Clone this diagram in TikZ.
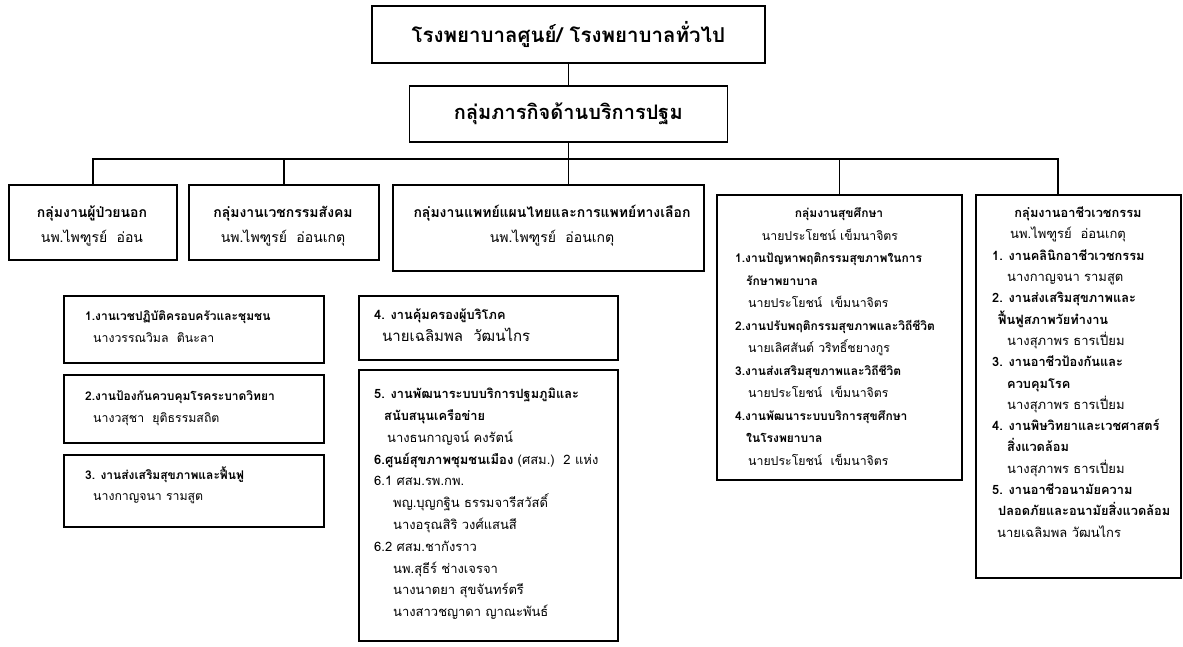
\documentclass[tikz,border=0pt]{standalone}
\usepackage{fontspec}
\setmainfont[Script=Thai]{Loma}
\tikzset{
  frame/.style={draw, line width=1.6pt, inner sep=0pt, anchor=north west},
  link/.style={line width=1.4pt},
  toptext/.style={font=\bfseries\fontsize{20.5}{24}\selectfont},
  subtext/.style={font=\bfseries\fontsize{20}{23}\selectfont},
  grphd/.style={font=\bfseries\fontsize{14}{17}\selectfont, inner sep=0pt, anchor=mid},
  grpnm/.style={font=\fontsize{14}{17}\selectfont, inner sep=0pt, anchor=mid},
  hd/.style={font=\bfseries\fontsize{12}{14}\selectfont, inner sep=0pt, anchor=mid west},
  nm/.style={font=\fontsize{12.3}{14}\selectfont, inner sep=0pt, anchor=mid west},
  hdc/.style={hd, anchor=mid},
  nmc/.style={nm, anchor=mid},
  % slightly larger lettering of the occupational medicine and primary care columns
  hdl/.style={hd, font=\bfseries\fontsize{12.8}{15}\selectfont},
  nml/.style={nm, font=\fontsize{13}{15}\selectfont},
  hdlc/.style={hdl, anchor=mid},
  nmlc/.style={nml, anchor=mid},
  nmbig/.style={font=\fontsize{15}{17}\selectfont, inner sep=0pt, anchor=mid west},
}
% box: name, left, top, width, height
\newcommand\orgbox[5]{\node[frame, minimum width=#4pt, minimum height=#5pt] (#1) at (#2,#3) {};}
\begin{document}
\begin{tikzpicture}[x=1pt, y=-1pt]
\fill[white] (0,0) rectangle (1183,646);
\useasboundingbox (0,0) rectangle (1183,646);

% top of the hierarchy
\node[frame, toptext, minimum width=393pt, minimum height=57pt] (A) at (371,5) {โรงพยาบาลศูนย์/ โรงพยาบาลทั่วไป};
\node[frame, subtext, minimum width=318pt, minimum height=56pt] (B) at (408.5,85) {กลุ่มภารกิจด้านบริการปฐม};

% second level groups
\orgbox{g1}{8}{184}{168}{75}
\orgbox{g2}{188}{184}{190}{75}
\orgbox{g3}{392}{184}{311}{86}
\orgbox{g4}{716}{194}{245}{285}
\orgbox{g5}{975}{194}{205}{383}

% sub-units of the primary care groups
\orgbox{u1}{63}{295}{260}{67}
\orgbox{u2}{63}{374}{260}{68}
\orgbox{u3}{63}{454}{260}{72}
\orgbox{u4}{358}{295}{259}{64}
\orgbox{u5}{358}{369}{259}{271}

% connectors
\coordinate (bar) at (0,159);
\draw[link] (A.south) -- (B.north);
\draw[link] (B.south) -- (B.south |- g3.north);
\draw[link] (g1.north) -- (g1.north |- bar) -- (g5.96.7 |- bar) -- (g5.96.7);
\draw[link] (g2.north) -- (g2.north |- bar);
\draw[link] (g4.north) -- (g4.north |- bar);

% group titles
\node[grphd] (g1t) at (92,215) {กลุ่มงานผู้ป่วยนอก};
\node[grpnm] (g1n) at (92,240) {นพ.ไพฑูรย์\ \ อ่อน};
\node[grphd] (g2t) at (283,215) {กลุ่มงานเวชกรรมสังคม};
\node[grpnm] (g2n) at (283,240) {นพ.ไพฑูรย์\ \ อ่อนเกตุ};
\node[grphd] (g3t) at (552,215) {กลุ่มงานแพทย์แผนไทยและการแพทย์ทางเลือก};
\node[grpnm] (g3n) at (552,240) {นพ.ไพฑูรย์\ \ อ่อนเกตุ};

% health education group
\foreach \xx/\st/\tx [count=\i] in {
  839/hdc/กลุ่มงานสุขศึกษา,
  830/nmc/นายประโยชน์ เข็มนาจิตร,
  735/hd/1.งานปัญหาพฤติกรรมสุขภาพในการ,
  746/hd/รักษาพยาบาล,
  748/nm/นายประโยชน์\ \ เข็มนาจิตร,
  735/hd/2.งานปรับพฤติกรรมสุขภาพและวิถีชีวิต,
  748/nm/นายเลิศสันต์ วริทธิ์ชยางกูร,
  735/hd/3.งานส่งเสริมสุขภาพและวิถีชีวิต,
  748/nm/นายประโยชน์\ \ เข็มนาจิตร,
  735/hd/4.งานพัฒนาระบบบริการสุขศึกษา,
  746/hd/ในโรงพยาบาล,
  748/nm/นายประโยชน์\ \ เข็มนาจิตร}
  \node[\st] (g4l\i) at (\xx,{215+22.5*(\i-1)}) {\tx};

% occupational medicine group
\foreach \xx/\st/\tx [count=\i] in {
  1078/hdlc/กลุ่มงานอาชีวเวชกรรม,
  1068/nmlc/นพ.ไพฑูรย์\ \ อ่อนเกตุ,
  992/hdl/1. งานคลินิกอาชีวเวชกรรม,
  1007/nml/นางกาญจนา รามสูต,
  992/hdl/2. งานส่งเสริมสุขภาพและ,
  998/hdl/ฟื้นฟูสภาพวัยทำงาน,
  1007/nml/นางสุภาพร ธารเปี่ยม,
  992/hdl/3. งานอาชีวป้องกันและ,
  1007/hdl/ควบคุมโรค,
  1007/nml/นางสุภาพร ธารเปี่ยม,
  992/hdl/4. งานพิษวิทยาและเวชศาสตร์,
  1007/hdl/สิ่งแวดล้อม,
  1007/nml/นางสุภาพร ธารเปี่ยม,
  992/hdl/5. งานอาชีวอนามัยความ,
  998/hdl/ปลอดภัยและอนามัยสิ่งแวดล้อม,
  997/nml/นายเฉลิมพล วัฒนไกร}
  \node[\st] (g5l\i) at (\xx,{215+21.3*(\i-1)}) {\tx};

% sub-unit texts
\node[hd] (u1t) at (85,318) {1.งานเวชปฏิบัติครอบครัวและชุมชน};
\node[nm] (u1n) at (93,340) {นางวรรณวิมล\ \ ตินะลา};
\node[hd] (u2t) at (85,398) {2.งานป้องกันควบคุมโรคระบาดวิทยา};
\node[nm] (u2n) at (93,420) {นางวสุชา\ \ ยุติธรรมสถิต};
\node[hd] (u3t) at (85,477) {3. งานส่งเสริมสุขภาพและฟื้นฟู};
\node[nm] (u3n) at (93,498) {นางกาญจนา รามสูต};
\node[hdl] (u4t) at (374,317) {4. งานคุ้มครองผู้บริโภค};
\node[nmbig] (u4n) at (382,339) {นายเฉลิมพล\ \ วัฒนไกร};

\foreach \xx/\st/\tx [count=\i] in {
  374/hdl/5. งานพัฒนาระบบบริการปฐมภูมิและ,
  384/hdl/สนับสนุนเครือข่าย,
  387/nml/นางธนกาญจน์ คงรัตน์,
  374/nml/{{\bfseries 6.ศูนย์สุขภาพชุมชนเมือง} (ศสม.)\ \ 2 แห่ง},
  374/nml/6.1 ศสม.รพ.กพ.,
  393/nml/พญ.บุญกฐิน ธรรมจารีสวัสดิ์,
  393/nml/นางอรุณสิริ วงศ์แสนสี,
  374/nml/6.2 ศสม.ชากังราว,
  393/nml/นพ.สุธีร์ ช่างเจรจา,
  393/nml/นางนาตยา สุขจันทร์ตรี,
  393/nml/นางสาวชญาดา ญาณะพันธ์}
  \node[\st] (u5l\i) at (\xx,{396+21.8*(\i-1)}) {\tx};
\end{tikzpicture}
\end{document}
